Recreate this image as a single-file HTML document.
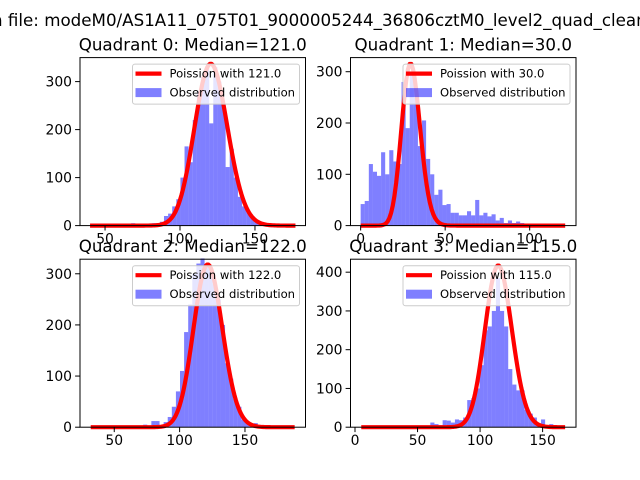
<!DOCTYPE html>
<html><head><meta charset="utf-8">
<style>
html,body{margin:0;padding:0;background:#fff;width:640px;height:480px;overflow:hidden}
svg{display:block;font-family:"DejaVu Sans","Liberation Sans",sans-serif}
</style></head>
<body>
<svg id="fig" width="640" height="480" viewBox="0 0 640 480">
<text x="-8" y="26" font-size="16.7" fill="#000">n file: modeM0/AS1A11_075T01_9000005244_36806cztM0_level2_quad_clean</text>
</svg>
<script>
// ----- data -----
const titles = ["Quadrant 0: Median=121.0","Quadrant 1: Median=30.0","Quadrant 2: Median=122.0","Quadrant 3: Median=115.0"];
const lambdas = [121, 30, 122, 115];
const peaks = [337, 315, 318, 417];
const histMin = [40, 0, 31.4, 4.5];
const histMax = [177, 121, 188, 168.4];
const counts0 = [0,0,0,0,0,0,0,0,0,0, 5,3,3,3,3,5,5,8,20,25, 40,55,100,165,132,220,280,310,330,213, 330,300,250,122,160,100,60,40,30,20, 10,8,5,3,2,0,0,0,0,0];
const counts1 = [42,48,120,105,97,143,100,147,125,120, 280,190,300,250,155,205,130,100,60,70, 40,42,25,25,20,20,28,20,50,20, 25,18,22,10,15,5,10,5,8,5, 3,2,2,1,1,0,0,0,0,0];
const counts2 = [0,0,0,0,0,0,0,0,0,0,0,0,0, 5,3,12,12,3,10,20,40,70,110,186,240,300,320,330,320,310,280,250,200,125,95,55,40,15,8,3,8, 0,0,0,0,0,0,0,0,0];
const counts3 = [0,0,0,0,0,0,0,0,0,0,0,0,0,0,0,0,0, 12,8,5,18,17,12,20,18,25,70,75,100,160,250,260,300,385,300,260,150,110,95,95,45,35,25,10,20,5,8,3,0,0];
const xTicks = [[50,100,150],[0,50,100],[50,100,150],[0,50,100,150]];
const yTicks = [[0,100,200,300],[0,100,200,300],[0,100,200,300],[0,100,200,300,400]];
const xLims = [[33.3,183.7],[-6,127.4],[23.8,196.3],[-3.6,176.7]];
const yLims = [[0,350],[0,327.5],[0,328.5],[0,433.5]];
const allCounts = [counts0, counts1, counts2, counts3];

const NS = "http://www.w3.org/2000/svg";
const svg = document.getElementById("fig");
function mk(tag, attrs, parent){
  const e = document.createElementNS(NS, tag);
  for (const k in attrs) e.setAttribute(k, attrs[k]);
  (parent||svg).appendChild(e);
  return e;
}
const boxes = [[80,57.6,305.5,225.6],[350.5,57.6,576,225.6],[80,259.2,305.5,427.2],[350.5,259.2,576,427.2]];

function logPmf(k, lam){
  let lf = 0; for (let i=2;i<=k;i++) lf += Math.log(i);
  return k*Math.log(lam) - lam - lf;
}

for (let q=0;q<4;q++){
  const [L,T,R,B] = boxes[q];
  const g = mk("g", {});
  
  
  const xs = v => L + (v - xLims[q][0])/(xLims[q][1]-xLims[q][0])*(R-L);
  const ys = v => B - (v - yLims[q][0])/(yLims[q][1]-yLims[q][0])*(B-T);
  const c = allCounts[q];
  const w = (histMax[q]-histMin[q])/c.length;
  for (let i=0;i<c.length;i++){
    if (c[i] <= 0) continue;
    const x0 = xs(histMin[q]+i*w), x1 = xs(histMin[q]+(i+1)*w);
    const r = mk("rect", {x:x0, y:ys(c[i]), width:x1-x0, height:ys(0)-ys(c[i]), fill:"#0000ff", "fill-opacity":0.5}, g);
    
    
  }
  const lam = lambdas[q];
  const pk = logPmf(Math.floor(lam), lam);
  let d = "";
  for (let k=Math.ceil(histMin[q]); k<=Math.floor(histMax[q]); k++){
    const v = peaks[q]*Math.exp(logPmf(k, lam)-pk);
    d += (d?"L":"M") + xs(k).toFixed(2) + " " + ys(v).toFixed(2);
  }
  const p = mk("path", {d:d, fill:"none", stroke:"#ff0000", "stroke-width":4.2, "stroke-linejoin":"round"}, g);
  
  
  const fr = mk("rect", {x:L, y:T, width:R-L, height:B-T, fill:"none", stroke:"#000", "stroke-width":1}, g);
  
  
  for (const t of xTicks[q]){
    const x = xs(t);
    mk("line", {x1:x, y1:B, x2:x, y2:B+4.9, stroke:"#000", "stroke-width":1}, g);
    const tx = mk("text", {x:x, y:B+18, "font-size":13.9, "text-anchor":"middle"}, g);
    tx.textContent = t;
    
    
  }
  for (const t of yTicks[q]){
    const y = ys(t);
    mk("line", {x1:L-4.9, y1:y, x2:L, y2:y, stroke:"#000", "stroke-width":1}, g);
    const ty = mk("text", {x:L-8, y:y+5, "font-size":13.9, "text-anchor":"end"}, g);
    ty.textContent = t;
    
    
  }
  const tt = mk("text", {x:(L+R)/2, y:T-7, "font-size":16.7, "text-anchor":"middle"}, g);
  tt.textContent = titles[q];
  
  
  const lg = mk("g", {}, g);
  
  
  const lx = R-173, ly = T+6.5;
  mk("rect", {x:lx, y:ly, width:167, height:40, rx:2.5, fill:"#fff", "fill-opacity":0.8, stroke:"#cccccc", "stroke-width":1}, lg);
  mk("line", {x1:lx+3, y1:ly+9.5, x2:lx+29, y2:ly+9.5, stroke:"#ff0000", "stroke-width":4.2}, lg);
  const t1 = mk("text", {x:lx+37, y:ly+13.5, "font-size":11.6}, lg);
  t1.textContent = "Poission with " + lambdas[q].toFixed(1);
  
  
  mk("rect", {x:lx+3, y:ly+24, width:26, height:9, fill:"#0000ff", "fill-opacity":0.5}, lg);
  const t2 = mk("text", {x:lx+37, y:ly+32.5, "font-size":11.6}, lg);
  t2.textContent = "Observed distribution";
  
  
}
</script>
</body></html>
